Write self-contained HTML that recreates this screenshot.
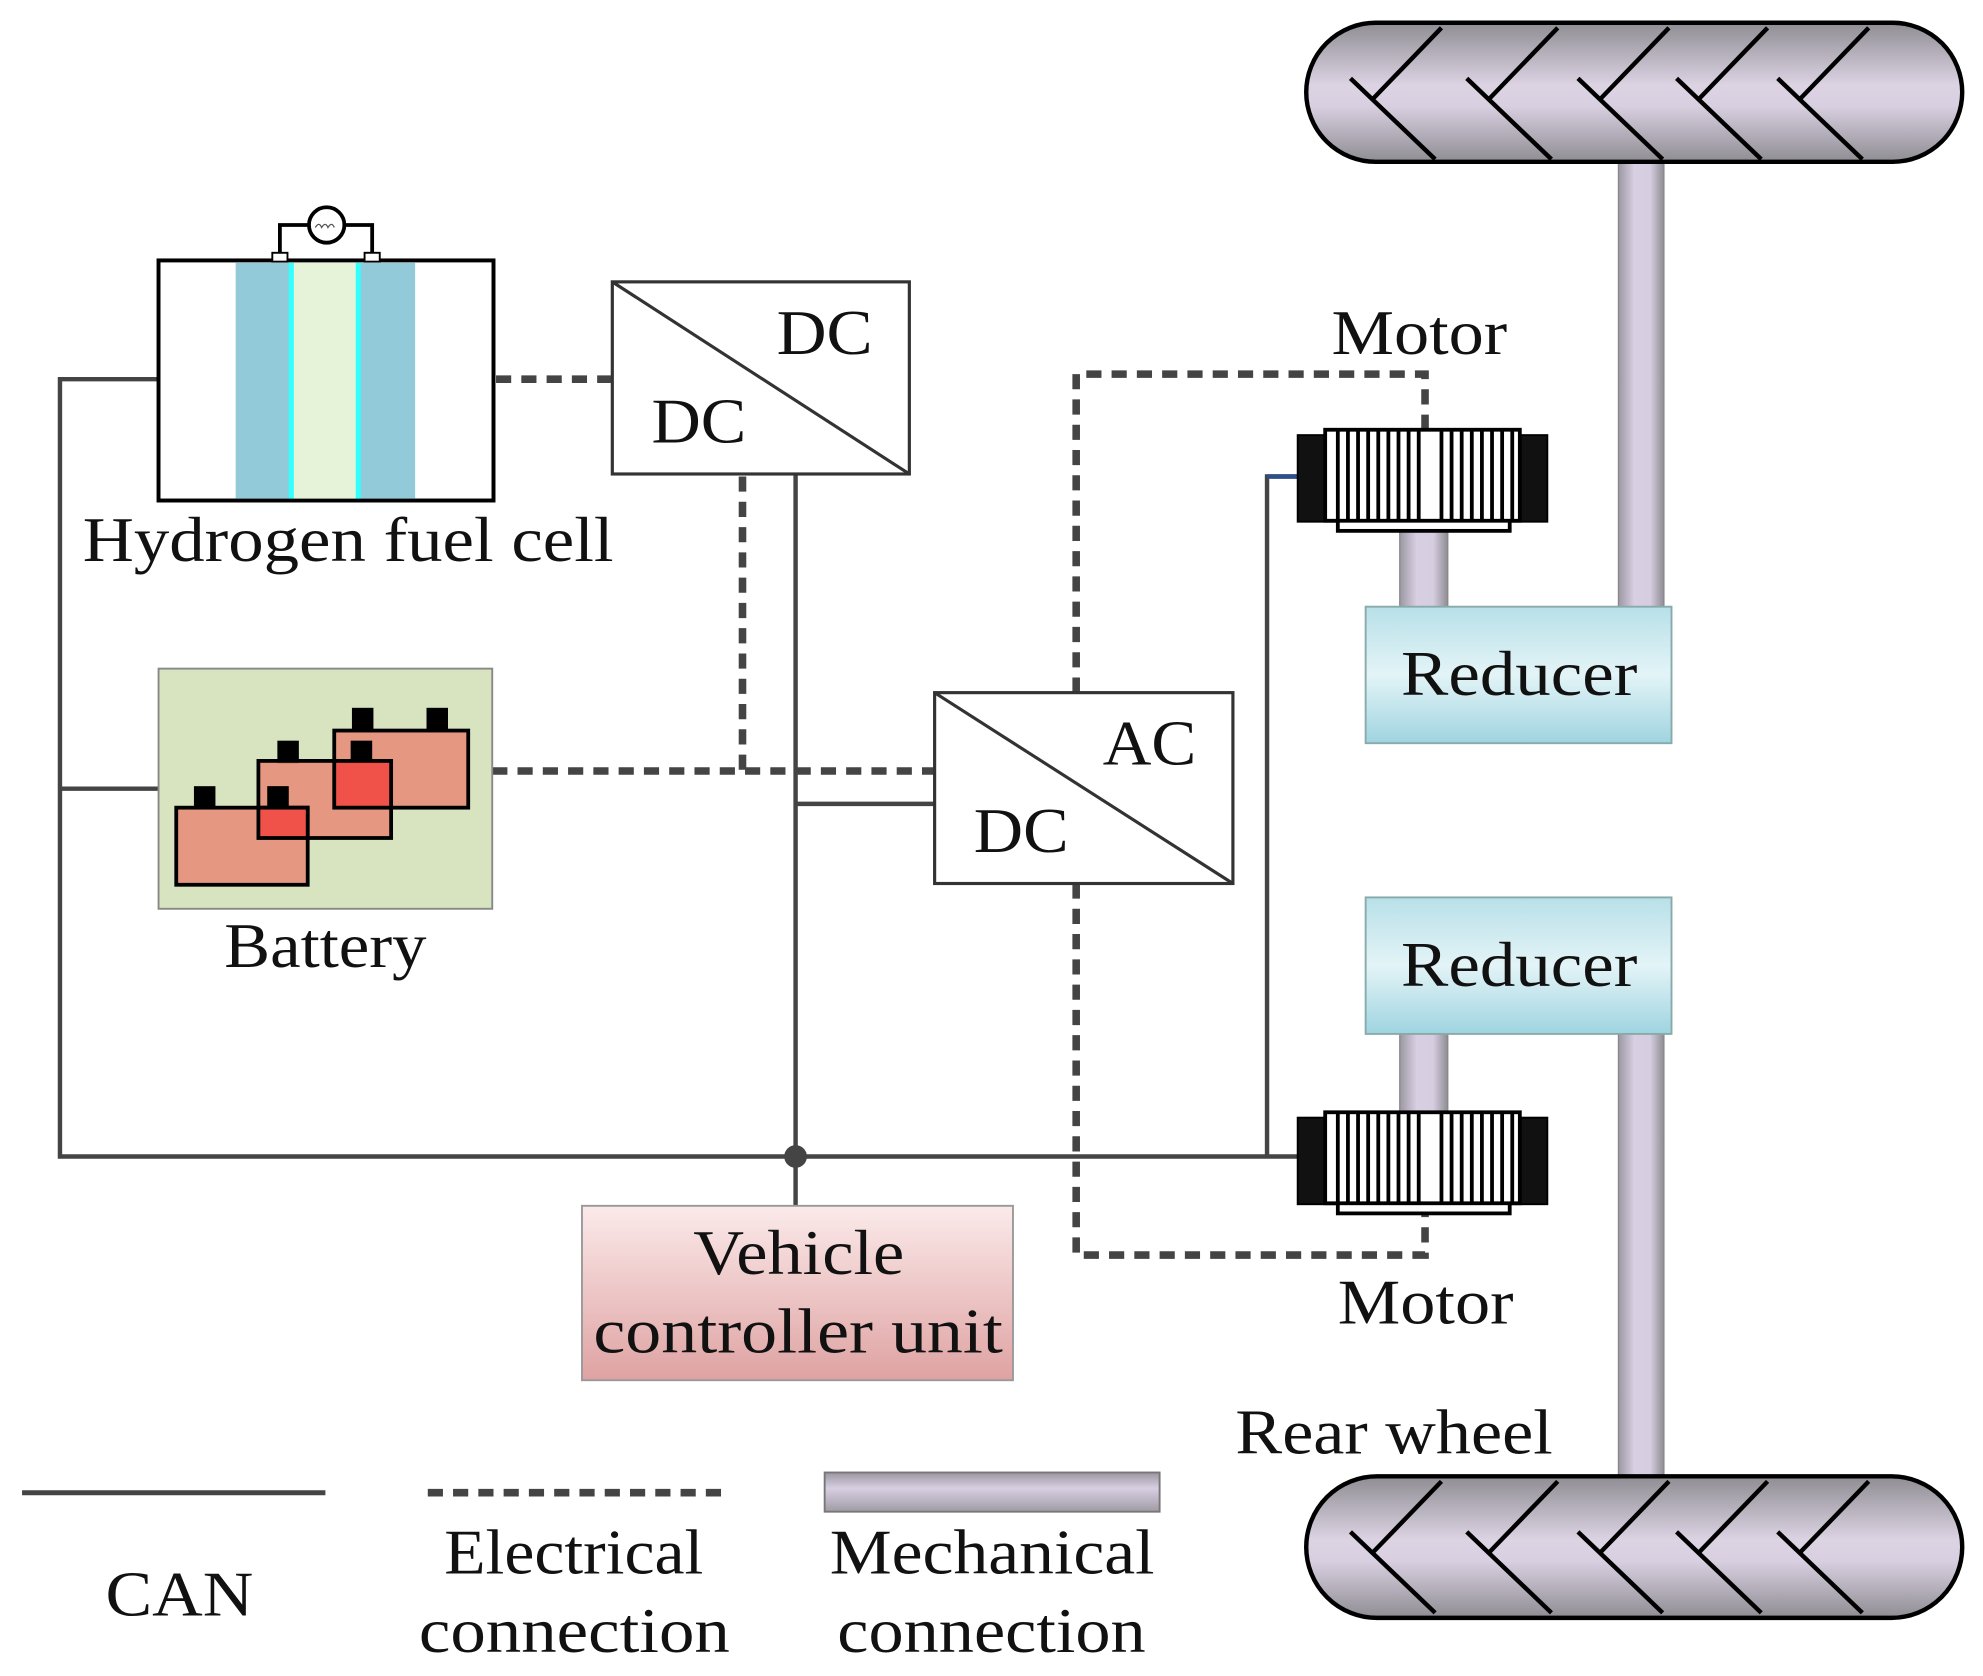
<!DOCTYPE html>
<html><head><meta charset="utf-8"><style>html,body{margin:0;padding:0;background:#fff}svg{display:block}text{font-family:"Liberation Serif",serif;fill:#111}</style></head>
<body>
<svg width="1983" height="1676" viewBox="0 0 1568 1326" xmlns="http://www.w3.org/2000/svg">
<defs>
<linearGradient id="tire" x1="0" y1="0" x2="0" y2="1"><stop offset="0" stop-color="#8f8d93"/><stop offset="0.45" stop-color="#dcd3e3"/><stop offset="0.6" stop-color="#d8cfe0"/><stop offset="1" stop-color="#8f8d93"/></linearGradient>
<linearGradient id="axle" x1="0" y1="0" x2="1" y2="0"><stop offset="0" stop-color="#9c97a3"/><stop offset="0.35" stop-color="#d8cfe2"/><stop offset="0.7" stop-color="#d5cde0"/><stop offset="1" stop-color="#8f8c94"/></linearGradient>
<linearGradient id="axleH" x1="0" y1="0" x2="0" y2="1"><stop offset="0" stop-color="#9c97a3"/><stop offset="0.4" stop-color="#d8cfe2"/><stop offset="1" stop-color="#a09ba6"/></linearGradient>
<linearGradient id="red" x1="0" y1="0" x2="0" y2="1"><stop offset="0" stop-color="#b8e0e8"/><stop offset="0.5" stop-color="#e3f4f7"/><stop offset="1" stop-color="#9fd4e0"/></linearGradient>
<linearGradient id="vcu" x1="0" y1="0" x2="0" y2="1"><stop offset="0" stop-color="#fbeaea"/><stop offset="1" stop-color="#dfa2a2"/></linearGradient>
<g id="motor">
<rect x="1027" y="0" width="196" height="67" fill="#fff" stroke="#000" stroke-width="3"/>
<rect x="1027" y="0" width="24" height="67" fill="#111"/>
<rect x="1199" y="0" width="24" height="67" fill="#111"/>
<rect x="1058" y="65" width="136" height="10" fill="#fff" stroke="#000" stroke-width="3"/>
<rect x="1048" y="-5" width="154" height="72" fill="#fff" stroke="#000" stroke-width="3"/>
<g stroke="#000" stroke-width="3">
<line x1="1058" y1="-5" x2="1058" y2="67"/><line x1="1066" y1="-5" x2="1066" y2="67"/><line x1="1074" y1="-5" x2="1074" y2="67"/><line x1="1082" y1="-5" x2="1082" y2="67"/><line x1="1090" y1="-5" x2="1090" y2="67"/><line x1="1098" y1="-5" x2="1098" y2="67"/><line x1="1106" y1="-5" x2="1106" y2="67"/><line x1="1114" y1="-5" x2="1114" y2="67"/><line x1="1122" y1="-5" x2="1122" y2="67"/>
<line x1="1140" y1="-5" x2="1140" y2="67"/><line x1="1148" y1="-5" x2="1148" y2="67"/><line x1="1156" y1="-5" x2="1156" y2="67"/><line x1="1164" y1="-5" x2="1164" y2="67"/><line x1="1172" y1="-5" x2="1172" y2="67"/><line x1="1180" y1="-5" x2="1180" y2="67"/><line x1="1188" y1="-5" x2="1188" y2="67"/><line x1="1196" y1="-5" x2="1196" y2="67"/>
</g>
</g>
<g id="tread" fill="none" stroke="#000" stroke-width="3.5">
<polyline points="1068,62 1135,126"/><polyline points="1085,79 1140,22"/>
<polyline points="1160,62 1227,126"/><polyline points="1177,79 1232,22"/>
<polyline points="1248,62 1315,126"/><polyline points="1265,79 1320,22"/>
<polyline points="1326,62 1393,126"/><polyline points="1343,79 1398,22"/>
<polyline points="1406,62 1473,126"/><polyline points="1423,79 1478,22"/>
</g>
</defs>

<rect x="1280" y="128" width="36" height="352" fill="url(#axle)" stroke="#888" stroke-width="1"/>
<rect x="1280" y="818" width="36" height="350" fill="url(#axle)" stroke="#888" stroke-width="1"/>
<rect x="1107" y="412" width="38" height="68" fill="url(#axle)" stroke="#888"/>
<rect x="1107" y="818" width="38" height="62" fill="url(#axle)" stroke="#888"/>

<rect x="1033" y="18" width="519" height="110" rx="55" fill="url(#tire)" stroke="#000" stroke-width="3.5"/>
<use href="#tread"/>
<rect x="1033" y="1168" width="519" height="112" rx="56" fill="url(#tire)" stroke="#000" stroke-width="3.5"/>
<use href="#tread" transform="translate(0,1150)"/>

<rect x="1080" y="480" width="242" height="108" fill="url(#red)" stroke="#8aa" stroke-width="1.5"/>
<text x="1108" y="550" font-size="50" textLength="187" lengthAdjust="spacingAndGlyphs">Reducer</text>
<rect x="1080" y="710" width="242" height="108" fill="url(#red)" stroke="#8aa" stroke-width="1.5"/>
<text x="1108" y="780" font-size="50" textLength="187" lengthAdjust="spacingAndGlyphs">Reducer</text>

<g stroke="#444" stroke-width="3.5" fill="none">
<polyline points="125,300 47,300 47,915 1027,915"/>
<line x1="47" y1="624" x2="125" y2="624"/>
<line x1="629" y1="375" x2="629" y2="954"/>
<line x1="629" y1="636" x2="739" y2="636"/>
<polyline points="1002,915 1002,377 1027,377"/>
</g>
<line x1="1002" y1="377" x2="1027" y2="377" stroke="#2a4f8a" stroke-width="3.5"/>
<circle cx="629" cy="915" r="9" fill="#444"/>

<g stroke="#444" stroke-width="6" fill="none" stroke-dasharray="12,8">
<line x1="392" y1="300" x2="484" y2="300"/>
<line x1="389" y1="610" x2="739" y2="610"/>
<line x1="587" y1="377" x2="587" y2="610"/>
<polyline points="851,548 851,296 1127,296 1127,345"/>
<polyline points="851,699 851,993 1127,993 1127,952"/>
</g>

<use href="#motor" transform="translate(0,345)"/>
<use href="#motor" transform="translate(0,885)"/>
<text x="1053" y="280" font-size="50" textLength="139" lengthAdjust="spacingAndGlyphs">Motor</text>
<text x="1058" y="1047" font-size="50" textLength="139" lengthAdjust="spacingAndGlyphs">Motor</text>
<text x="977" y="1150" font-size="50" textLength="251" lengthAdjust="spacingAndGlyphs">Rear wheel</text>

<rect x="125" y="206" width="265" height="190" fill="#fff" stroke="#000" stroke-width="3"/>
<rect x="186" y="208" width="44" height="187" fill="#92cad9"/>
<rect x="282" y="208" width="46" height="187" fill="#92cad9"/>
<rect x="230" y="208" width="52" height="187" fill="#e6f3d8"/>
<rect x="228" y="208" width="4" height="187" fill="#3ff"/>
<rect x="281" y="208" width="4" height="187" fill="#3ff"/>
<rect x="125" y="206" width="265" height="190" fill="none" stroke="#000" stroke-width="3"/>
<polyline points="221,203 221,178 294,178 294,203" fill="none" stroke="#000" stroke-width="3"/>
<circle cx="258" cy="178" r="14" fill="#fff" stroke="#000" stroke-width="3"/>
<path d="M249,180 q3,-5 5,0 q3,-5 5,0 q3,-5 5,0" fill="none" stroke="#555" stroke-width="1"/>
<rect x="215" y="200" width="12" height="7" fill="#fff" stroke="#000" stroke-width="1.5"/>
<rect x="288" y="200" width="12" height="7" fill="#fff" stroke="#000" stroke-width="1.5"/>
<text x="65" y="444" font-size="50" textLength="420" lengthAdjust="spacingAndGlyphs">Hydrogen fuel cell</text>

<rect x="125" y="529" width="264" height="190" fill="#d7e4bf" stroke="#888" stroke-width="1.5"/>
<g fill="#000">
<rect x="153" y="622" width="17" height="18"/><rect x="211" y="622" width="17" height="18"/>
<rect x="219" y="586" width="17" height="18"/><rect x="277" y="586" width="17" height="18"/>
<rect x="278" y="560" width="17" height="18"/><rect x="337" y="560" width="17" height="18"/>
</g>
<g stroke="#000" stroke-width="3" fill="#e98a75" fill-opacity="0.85">
<rect x="264" y="578" width="106" height="61"/>
<rect x="204" y="602" width="105" height="61"/>
<rect x="139" y="639" width="104" height="61"/>
</g>
<rect x="204" y="639" width="39" height="24" fill="#f0524a" stroke="#000" stroke-width="3"/>
<rect x="264" y="602" width="45" height="37" fill="#f0524a" stroke="#000" stroke-width="3"/>
<rect x="277" y="586" width="17" height="16" fill="#000"/>
<rect x="211" y="622" width="17" height="17" fill="#000"/>
<text x="177" y="765" font-size="50" textLength="160" lengthAdjust="spacingAndGlyphs">Battery</text>

<rect x="484" y="223" width="235" height="152" fill="#fff" stroke="#333" stroke-width="2.5"/>
<line x1="484" y1="223" x2="719" y2="375" stroke="#333" stroke-width="2.5"/>
<text x="614" y="280" font-size="50" textLength="76" lengthAdjust="spacingAndGlyphs">DC</text>
<text x="515" y="350" font-size="50" textLength="75" lengthAdjust="spacingAndGlyphs">DC</text>

<rect x="739" y="548" width="236" height="151" fill="#fff" stroke="#333" stroke-width="2.5"/>
<line x1="739" y1="548" x2="975" y2="699" stroke="#333" stroke-width="2.5"/>
<text x="872" y="605" font-size="50" textLength="74" lengthAdjust="spacingAndGlyphs">AC</text>
<text x="770" y="674" font-size="50" textLength="75" lengthAdjust="spacingAndGlyphs">DC</text>

<rect x="460" y="954" width="341" height="138" fill="url(#vcu)" stroke="#999" stroke-width="1.5"/>
<text x="548" y="1008" font-size="50" textLength="167" lengthAdjust="spacingAndGlyphs">Vehicle</text>
<text x="469" y="1070" font-size="50" textLength="324" lengthAdjust="spacingAndGlyphs">controller unit</text>

<line x1="17" y1="1181" x2="257" y2="1181" stroke="#444" stroke-width="4"/>
<text x="83" y="1278" font-size="50" textLength="117" lengthAdjust="spacingAndGlyphs">CAN</text>
<line x1="338" y1="1181" x2="575" y2="1181" stroke="#444" stroke-width="6" stroke-dasharray="12,8"/>
<text x="351" y="1245" font-size="50" textLength="205" lengthAdjust="spacingAndGlyphs">Electrical</text>
<text x="331" y="1307" font-size="50" textLength="246" lengthAdjust="spacingAndGlyphs">connection</text>
<rect x="652" y="1165" width="265" height="31" fill="url(#axleH)" stroke="#777" stroke-width="1.5"/>
<text x="656" y="1245" font-size="50" textLength="257" lengthAdjust="spacingAndGlyphs">Mechanical</text>
<text x="662" y="1307" font-size="50" textLength="244" lengthAdjust="spacingAndGlyphs">connection</text>
</svg>
</body></html>
